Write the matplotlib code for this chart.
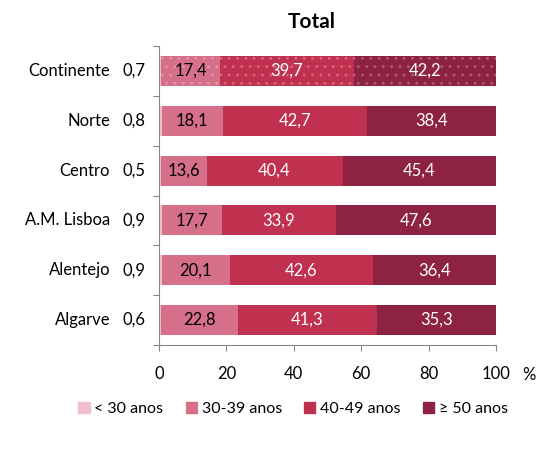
import matplotlib.pyplot as plt
import numpy as np

plt.rcParams['font.family'] = ['Lato', 'DejaVu Sans']
plt.rcParams['hatch.linewidth'] = 1.0

regions = ['Continente', 'Norte', 'Centro', 'A.M. Lisboa', 'Alentejo', 'Algarve']
under30 = [0.7, 0.8, 0.5, 0.9, 0.9, 0.6]
age30_39 = [17.4, 18.1, 13.6, 17.7, 20.1, 22.8]
age40_49 = [39.7, 42.7, 40.4, 33.9, 42.6, 41.3]
over50 = [42.2, 38.4, 45.4, 47.6, 36.4, 35.3]

series = [under30, age30_39, age40_49, over50]
labels = ['< 30 anos', '30-39 anos', '40-49 anos', '≥ 50 anos']
colors = ['#f2c0cc', '#d66f89', '#c0304f', '#8e2243']
text_colors = [None, 'black', 'white', 'white']

fig = plt.figure(figsize=(5.43, 4.61), dpi=100)
ax = fig.add_axes([0.2928, 0.2516, 0.6206, 0.6486])

y = np.arange(len(regions))
left = np.zeros(len(regions))
handles = []
for vals, lab, col, tc in zip(series, labels, colors, text_colors):
    vals = np.array(vals)
    bars = ax.barh(y, vals, left=left, height=0.6, color=col, linewidth=0, label=lab)
    # dotted pattern on the Continente bar
    bars[0].set_hatch('..')
    bars[0].set_edgecolor((1, 1, 1, 0.18))
    handles.append(plt.Rectangle((0, 0), 1, 1, color=col))
    if tc is not None:
        for yi, l, v in zip(y, left, vals):
            ax.text(l + v / 2, yi, f'{v:.1f}'.replace('.', ','), ha='center', va='center',
                    color=tc, fontsize=12)
    left += vals

# small <30 values shown next to the axis
for yi, v in zip(y, under30):
    ax.text(-7.5, yi, f'{v:.1f}'.replace('.', ','), ha='center', va='center', fontsize=12,
            clip_on=False)
    ax.text(-14.5, yi, regions[yi], ha='right', va='center', fontsize=12, clip_on=False)

ax.set_ylim(len(regions) - 0.5, -0.5)
ax.set_xlim(0, 100)
ax.set_yticks(np.arange(-0.5, len(regions), 1))
ax.set_yticklabels([])
ax.set_xticks([0, 20, 40, 60, 80, 100])
ax.tick_params(axis='x', labelsize=12, length=4, color='#868686', pad=11)
ax.tick_params(axis='y', length=4, color='#868686')
for s in ['top', 'right']:
    ax.spines[s].set_visible(False)
for s in ['left', 'bottom']:
    ax.spines[s].set_color('#868686')
ax.annotate('%', xy=(1.0, 0), xycoords='axes fraction', xytext=(24, -21.5),
            textcoords='offset points', ha='center', va='center', fontsize=12)

fig.text(0.575, 0.952, 'Total', ha='center', va='center', fontsize=15, fontweight='bold')

fig.legend(handles, labels, loc='center', bbox_to_anchor=(0.54, 0.113), ncol=4,
           frameon=False, fontsize=11.5, handlelength=0.7, handleheight=0.7,
           handletextpad=0.3, columnspacing=1.4)

fig.savefig('out.png', dpi=100)
